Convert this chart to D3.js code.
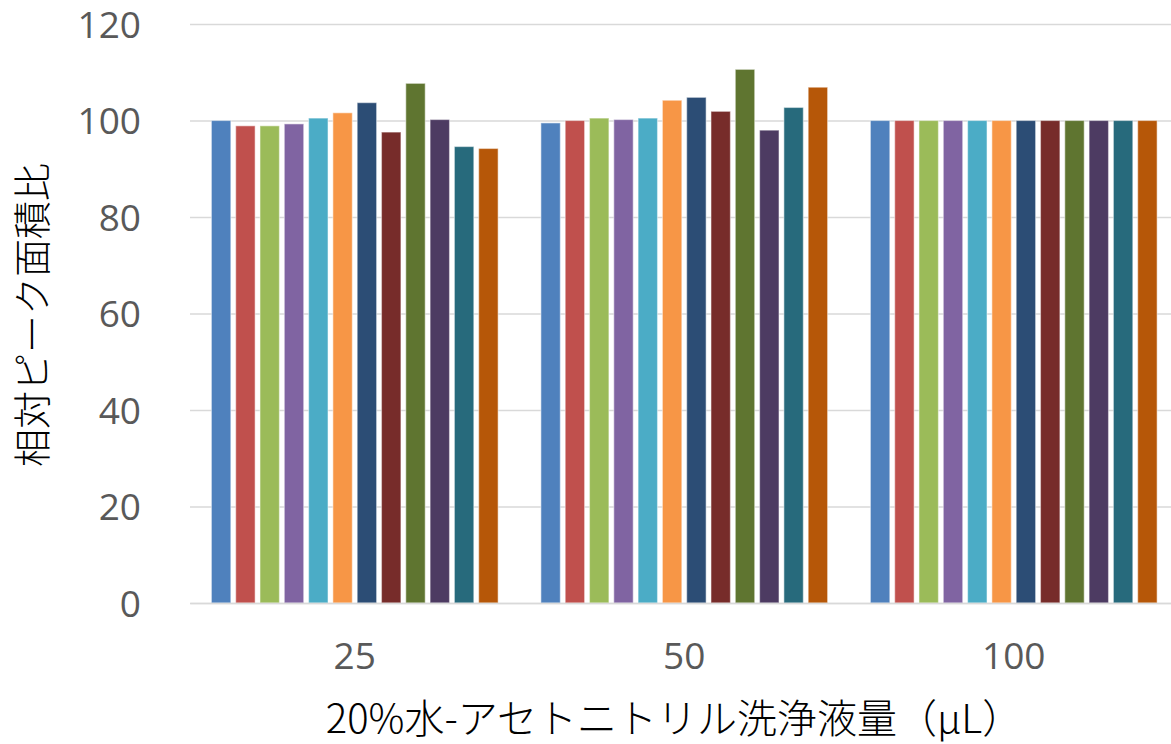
<!DOCTYPE html>
<html>
<head>
<meta charset="utf-8">
<script src="https://cdn.jsdelivr.net/npm/d3@7"></script>
<style>
  html, body { margin: 0; padding: 0; background: #fff; }
  svg { display: block; }
</style>
</head>
<body>
<svg id="chart" width="1171" height="744"></svg>
<script>
// Wash volume groups (µL)
const categories = ["25", "50", "100"];
// Twelve compounds, one bar each per group
const seriesNames = ["S1", "S2", "S3", "S4", "S5", "S6", "S7", "S8", "S9", "S10", "S11", "S12"];
// Relative peak area ratio (%) per compound
const values25  = [100.0, 98.9, 98.9, 99.3, 100.5, 101.6, 103.7, 97.6, 107.7, 100.2, 94.6, 94.2];
const values50  = [99.5, 100.0, 100.5, 100.2, 100.5, 104.2, 104.8, 101.9, 110.6, 98.0, 102.7, 106.9];
const values100 = [100, 100, 100, 100, 100, 100, 100, 100, 100, 100, 100, 100];
const yTicks = [0, 20, 40, 60, 80, 100, 120];
const colors = ["#4F81BD", "#C0504D", "#9BBB59", "#8064A2", "#4BACC6", "#F79646",
                "#2C4D75", "#772C2A", "#5F7530", "#4D3B62", "#276A7C", "#B65708"];

const groupValues = [values25, values50, values100];
const data = categories.map((c, i) => ({
  category: c,
  bars: seriesNames.map((s, j) => ({ series: s, value: groupValues[i][j], color: colors[j] }))
}));

const svg = d3.select("#chart");
const plot = { left: 190, right: 1178.5, top: 24, bottom: 603 };

const x = d3.scaleBand().domain(categories).range([plot.left, plot.right]);
const xInner = d3.scaleBand().domain(seriesNames).range([0, x.bandwidth()])
  .paddingInner(0.2).paddingOuter(0.88);
const y = d3.scaleLinear().domain([0, 120]).range([plot.bottom, plot.top]);

const tickFont = "'Open Sans', 'Noto Sans CJK JP', sans-serif";
const cjkFont = "'Noto Sans CJK JP', sans-serif";

// Horizontal gridlines and left tick labels
const yAxis = d3.axisLeft(y).tickValues(yTicks).tickSize(-(plot.right - plot.left)).tickPadding(49);
const gy = svg.append("g").attr("transform", `translate(${plot.left},0)`).call(yAxis);
gy.select(".domain").remove();
gy.selectAll(".tick line").attr("stroke", "#d9d9d9").attr("stroke-width", 1.5);
gy.selectAll(".tick text")
  .attr("fill", "#595959")
  .style("font-family", tickFont)
  .style("font-size", "37px")
  .attr("dy", "0.36em");

// Bars
const groups = svg.append("g").selectAll("g")
  .data(data).join("g")
  .attr("transform", d => `translate(${x(d.category)},0)`);

groups.selectAll("rect")
  .data(d => d.bars).join("rect")
  .attr("x", d => xInner(d.series))
  .attr("width", xInner.bandwidth())
  .attr("y", d => y(d.value))
  .attr("height", d => y(0) - y(d.value))
  .attr("fill", d => d.color)
  .attr("stroke", "#ffffff")
  .attr("stroke-opacity", 0.45)
  .attr("stroke-width", 1.2);

// Category axis
const xAxis = d3.axisBottom(x).tickSize(0).tickPadding(40);
const gx = svg.append("g").attr("transform", `translate(0,${plot.bottom})`).call(xAxis);
gx.select(".domain").attr("stroke", "#d9d9d9").attr("stroke-width", 1.5);
gx.selectAll(".tick text")
  .attr("fill", "#595959")
  .style("font-family", tickFont)
  .style("font-size", "37px");

// Axis titles
svg.append("text")
  .attr("x", 674)
  .attr("y", 733)
  .attr("text-anchor", "middle")
  .attr("fill", "#000")
  .style("font-family", cjkFont)
  .style("font-weight", 300)
  .style("font-size", "40px")
  .text("20%水-アセトニトリル洗浄液量（μL）");

svg.append("text")
  .attr("transform", `translate(46,315) rotate(-90)`)
  .attr("text-anchor", "middle")
  .attr("fill", "#000")
  .style("font-family", cjkFont)
  .style("font-weight", 300)
  .style("font-size", "38px")
  .text("相対ピーク面積比");
</script>
</body>
</html>
